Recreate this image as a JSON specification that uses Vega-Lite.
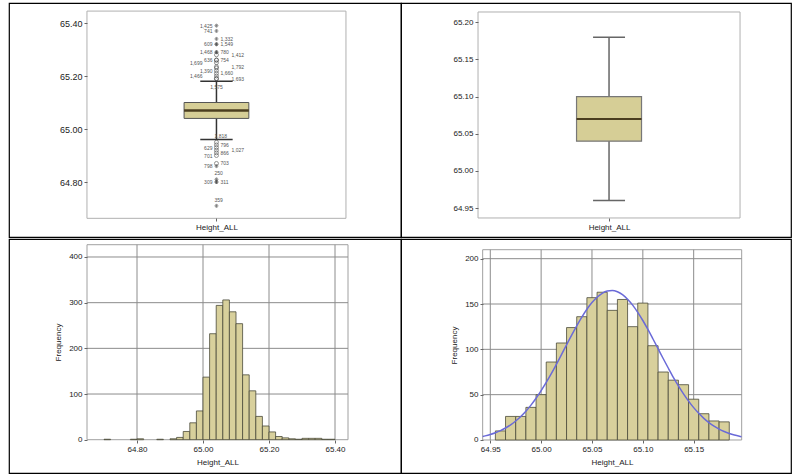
{
  "$schema": "https://vega.github.io/schema/vega-lite/v6.json",
  "padding": {"left": 8, "top": 2, "right": 0, "bottom": 0},
  "background": "white",
  "config": {
    "view": {"stroke": "black", "strokeWidth": 1.2},
    "font": "Liberation Sans",
    "axis": {"domain": false, "grid": false, "tickSize": 3, "tickColor": "#666", "labelColor": "#222", "labelFontSize": 8, "titleFontSize": 8, "titleFontWeight": "normal", "titleColor": "#222", "labelPadding": 2}
  },
  "datasets": {
    "box": [{"lower": 64.96, "q1": 65.04, "median": 65.07, "q3": 65.10, "upper": 65.18}],
    "out1": [
      {"v": 65.39, "id": "1,425", "kind": "extreme", "side": "left"},
      {"v": 65.37, "id": "741", "kind": "extreme", "side": "left"},
      {"v": 65.34, "id": "1,332", "kind": "extreme", "side": "right"},
      {"v": 65.32, "id": "609", "kind": "extreme", "side": "left"},
      {"v": 65.32, "id": "1,549", "kind": "extreme", "side": "right"},
      {"v": 65.29, "id": "1,468", "kind": "extreme", "side": "left"},
      {"v": 65.29, "id": "780", "kind": "extreme", "side": "right"},
      {"v": 65.28, "id": "1,412", "kind": "mild", "side": "farright"},
      {"v": 65.26, "id": "754", "kind": "mild", "side": "right"},
      {"v": 65.26, "id": "636", "kind": "mild", "side": "left"},
      {"v": 65.25, "id": "1,699", "kind": "mild", "side": "farleft"},
      {"v": 65.235, "id": "1,792", "kind": "mild", "side": "farright"},
      {"v": 65.23, "id": "572", "kind": "mild", "side": "none"},
      {"v": 65.22, "id": "1,390", "kind": "mild", "side": "left"},
      {"v": 65.21, "id": "1,660", "kind": "mild", "side": "right"},
      {"v": 65.20, "id": "1,466", "kind": "mild", "side": "farleft"},
      {"v": 65.19, "id": "1,693", "kind": "mild", "side": "farright"},
      {"v": 65.19, "id": "1,575", "kind": "mild", "side": "below"},
      {"v": 64.95, "id": "1,818", "kind": "mild", "side": "above"},
      {"v": 64.94, "id": "796", "kind": "mild", "side": "right"},
      {"v": 64.93, "id": "629", "kind": "mild", "side": "left"},
      {"v": 64.92, "id": "1,027", "kind": "mild", "side": "farright"},
      {"v": 64.91, "id": "866", "kind": "mild", "side": "right"},
      {"v": 64.90, "id": "701", "kind": "mild", "side": "left"},
      {"v": 64.87, "id": "703", "kind": "mild", "side": "right"},
      {"v": 64.86, "id": "798", "kind": "extreme", "side": "left"},
      {"v": 64.81, "id": "250", "kind": "extreme", "side": "above"},
      {"v": 64.80, "id": "311", "kind": "extreme", "side": "right"},
      {"v": 64.80, "id": "309", "kind": "extreme", "side": "left"},
      {"v": 64.71, "id": "359", "kind": "extreme", "side": "above"}
    ],
    "hist3": [
      {"start": 64.70, "end": 64.72, "count": 1},
      {"start": 64.78, "end": 64.80, "count": 1},
      {"start": 64.80, "end": 64.82, "count": 2},
      {"start": 64.86, "end": 64.88, "count": 1},
      {"start": 64.90, "end": 64.92, "count": 2},
      {"start": 64.92, "end": 64.94, "count": 5},
      {"start": 64.94, "end": 64.96, "count": 18},
      {"start": 64.96, "end": 64.98, "count": 37},
      {"start": 64.98, "end": 65.00, "count": 63},
      {"start": 65.00, "end": 65.02, "count": 137},
      {"start": 65.02, "end": 65.04, "count": 232},
      {"start": 65.04, "end": 65.06, "count": 294},
      {"start": 65.06, "end": 65.08, "count": 306},
      {"start": 65.08, "end": 65.10, "count": 280},
      {"start": 65.10, "end": 65.12, "count": 254},
      {"start": 65.12, "end": 65.14, "count": 142},
      {"start": 65.14, "end": 65.16, "count": 107},
      {"start": 65.16, "end": 65.18, "count": 51},
      {"start": 65.18, "end": 65.20, "count": 30},
      {"start": 65.20, "end": 65.22, "count": 17},
      {"start": 65.22, "end": 65.24, "count": 7},
      {"start": 65.24, "end": 65.26, "count": 4},
      {"start": 65.26, "end": 65.28, "count": 2},
      {"start": 65.28, "end": 65.30, "count": 1},
      {"start": 65.30, "end": 65.32, "count": 3},
      {"start": 65.32, "end": 65.34, "count": 3},
      {"start": 65.34, "end": 65.36, "count": 3},
      {"start": 65.36, "end": 65.38, "count": 1},
      {"start": 65.38, "end": 65.40, "count": 1}
    ],
    "hist4": [
      {"start": 64.955, "end": 64.965, "count": 10},
      {"start": 64.965, "end": 64.975, "count": 26},
      {"start": 64.975, "end": 64.985, "count": 26},
      {"start": 64.985, "end": 64.995, "count": 36},
      {"start": 64.995, "end": 65.005, "count": 50},
      {"start": 65.005, "end": 65.015, "count": 86},
      {"start": 65.015, "end": 65.025, "count": 107},
      {"start": 65.025, "end": 65.035, "count": 124},
      {"start": 65.035, "end": 65.045, "count": 136},
      {"start": 65.045, "end": 65.055, "count": 157},
      {"start": 65.055, "end": 65.065, "count": 163},
      {"start": 65.065, "end": 65.075, "count": 143},
      {"start": 65.075, "end": 65.085, "count": 155},
      {"start": 65.085, "end": 65.095, "count": 125},
      {"start": 65.095, "end": 65.105, "count": 151},
      {"start": 65.105, "end": 65.115, "count": 104},
      {"start": 65.115, "end": 65.125, "count": 75},
      {"start": 65.125, "end": 65.135, "count": 66},
      {"start": 65.135, "end": 65.145, "count": 61},
      {"start": 65.145, "end": 65.155, "count": 45},
      {"start": 65.155, "end": 65.165, "count": 29},
      {"start": 65.165, "end": 65.175, "count": 21},
      {"start": 65.175, "end": 65.185, "count": 20}
    ],
    "curve": [
      {"h": 64.9425, "f": 3.95}, {"h": 64.945, "f": 4.57}, {"h": 64.95, "f": 6.06}, {"h": 64.955, "f": 7.96},
      {"h": 64.96, "f": 10.33}, {"h": 64.965, "f": 13.23}, {"h": 64.97, "f": 16.77}, {"h": 64.975, "f": 21.0},
      {"h": 64.98, "f": 26.0}, {"h": 64.985, "f": 31.8}, {"h": 64.99, "f": 38.5}, {"h": 64.995, "f": 46.0},
      {"h": 65.0, "f": 54.4}, {"h": 65.005, "f": 63.5}, {"h": 65.01, "f": 73.2}, {"h": 65.015, "f": 83.5},
      {"h": 65.02, "f": 94.2}, {"h": 65.025, "f": 105.0}, {"h": 65.03, "f": 115.7}, {"h": 65.035, "f": 125.9},
      {"h": 65.04, "f": 135.5}, {"h": 65.045, "f": 144.2}, {"h": 65.05, "f": 151.6}, {"h": 65.055, "f": 157.5},
      {"h": 65.06, "f": 161.8}, {"h": 65.065, "f": 164.3}, {"h": 65.07, "f": 164.9}, {"h": 65.075, "f": 163.5},
      {"h": 65.08, "f": 160.3}, {"h": 65.085, "f": 155.3}, {"h": 65.09, "f": 148.8}, {"h": 65.095, "f": 140.8},
      {"h": 65.1, "f": 131.8}, {"h": 65.105, "f": 121.9}, {"h": 65.11, "f": 111.4}, {"h": 65.115, "f": 100.7},
      {"h": 65.12, "f": 89.9}, {"h": 65.125, "f": 79.4}, {"h": 65.13, "f": 69.2}, {"h": 65.135, "f": 59.7},
      {"h": 65.14, "f": 50.9}, {"h": 65.145, "f": 42.9}, {"h": 65.15, "f": 35.7}, {"h": 65.155, "f": 29.4},
      {"h": 65.16, "f": 23.9}, {"h": 65.165, "f": 19.2}, {"h": 65.17, "f": 15.3}, {"h": 65.175, "f": 12.0},
      {"h": 65.18, "f": 9.32}, {"h": 65.185, "f": 7.15}, {"h": 65.19, "f": 5.42}, {"h": 65.195, "f": 4.07},
      {"h": 65.197, "f": 3.61}
    ],
    "grid3x": [{"g": 64.8}, {"g": 65.0}, {"g": 65.2}, {"g": 65.4}],
    "grid3y": [{"g": 100}, {"g": 200}, {"g": 300}, {"g": 400}],
    "grid4x": [{"g": 64.95}, {"g": 65.0}, {"g": 65.05}, {"g": 65.1}, {"g": 65.15}],
    "grid4y": [{"g": 50}, {"g": 100}, {"g": 150}, {"g": 200}]
  },
  "spacing": 0,
  "vconcat": [
    {
      "spacing": 0,
      "bounds": "flush",
      "hconcat": [
        {
          "width": 392,
          "height": 234,
          "layer": [
            {
              "data": {"values": [{"frame": 1}]},
              "mark": {"type": "rect", "fillOpacity": 0, "stroke": "#b0b0b0", "strokeWidth": 1},
              "encoding": {
                "x": {"datum": -1, "type": "quantitative", "scale": {"domain": [-1.602, 1.425], "nice": false, "zero": false}, "axis": {"zindex": 1, "values": [0], "labelExpr": "'Height_ALL'", "title": null, "offset": -19, "labelFontSize": 8}},
                "x2": {"datum": 1},
                "y": {"datum": 64.663, "type": "quantitative", "scale": {"domain": [64.5925, 65.4755], "nice": false, "zero": false}, "axis": {"zindex": 1, "values": [64.8, 65.0, 65.2, 65.4], "format": ".2f", "title": null, "offset": -78, "labelFontSize": 9}},
                "y2": {"datum": 65.445}
              }
            },
            {
              "data": {"name": "box"},
              "mark": {"type": "rule", "color": "#333", "strokeWidth": 1.5},
              "encoding": {
                "x": {"datum": 0, "type": "quantitative"},
                "y": {"field": "lower", "type": "quantitative"},
                "y2": {"field": "upper"}
              }
            },
            {
              "data": {"name": "box"},
              "mark": {"type": "rule", "color": "#333", "strokeWidth": 1.5},
              "encoding": {
                "x": {"datum": -0.125, "type": "quantitative"},
                "x2": {"datum": 0.125},
                "y": {"field": "lower", "type": "quantitative"}
              }
            },
            {
              "data": {"name": "box"},
              "mark": {"type": "rule", "color": "#333", "strokeWidth": 1.5},
              "encoding": {
                "x": {"datum": -0.125, "type": "quantitative"},
                "x2": {"datum": 0.125},
                "y": {"field": "upper", "type": "quantitative"}
              }
            },
            {
              "data": {"name": "box"},
              "mark": {"type": "rect", "fill": "#d6ce96", "stroke": "#555", "strokeWidth": 1},
              "encoding": {
                "x": {"datum": -0.25, "type": "quantitative"},
                "x2": {"datum": 0.25},
                "y": {"field": "q1", "type": "quantitative"},
                "y2": {"field": "q3"}
              }
            },
            {
              "data": {"name": "box"},
              "mark": {"type": "rule", "color": "#4b3e1f", "strokeWidth": 2.5},
              "encoding": {
                "x": {"datum": -0.25, "type": "quantitative"},
                "x2": {"datum": 0.25},
                "y": {"field": "median", "type": "quantitative"}
              }
            },
            {
              "data": {"name": "out1"},
              "mark": {"type": "point", "filled": false, "size": 16, "strokeWidth": 0.8},
              "encoding": {
                "x": {"datum": 0, "type": "quantitative"},
                "y": {"field": "v", "type": "quantitative"},
                "shape": {"field": "kind", "type": "nominal", "scale": {"domain": ["mild", "extreme"], "range": ["circle", "M-1,0H1M0,-1V1M-0.7,-0.7L0.7,0.7M-0.7,0.7L0.7,-0.7"]}, "legend": null},
                "color": {"value": "#444"}
              }
            },
            {
              "data": {"name": "out1"},
              "transform": [{"filter": "datum.side === 'left'"}],
              "mark": {"type": "text", "align": "right", "baseline": "middle", "dx": -4, "fontSize": 5, "color": "#555"},
              "encoding": {
                "x": {"datum": 0, "type": "quantitative"},
                "y": {"field": "v", "type": "quantitative"},
                "text": {"field": "id"}
              }
            },
            {
              "data": {"name": "out1"},
              "transform": [{"filter": "datum.side === 'farleft'"}],
              "mark": {"type": "text", "align": "right", "baseline": "middle", "dx": -14, "fontSize": 5, "color": "#555"},
              "encoding": {
                "x": {"datum": 0, "type": "quantitative"},
                "y": {"field": "v", "type": "quantitative"},
                "text": {"field": "id"}
              }
            },
            {
              "data": {"name": "out1"},
              "transform": [{"filter": "datum.side === 'right'"}],
              "mark": {"type": "text", "align": "left", "baseline": "middle", "dx": 4, "fontSize": 5, "color": "#555"},
              "encoding": {
                "x": {"datum": 0, "type": "quantitative"},
                "y": {"field": "v", "type": "quantitative"},
                "text": {"field": "id"}
              }
            },
            {
              "data": {"name": "out1"},
              "transform": [{"filter": "datum.side === 'farright'"}],
              "mark": {"type": "text", "align": "left", "baseline": "middle", "dx": 15, "fontSize": 5, "color": "#555"},
              "encoding": {
                "x": {"datum": 0, "type": "quantitative"},
                "y": {"field": "v", "type": "quantitative"},
                "text": {"field": "id"}
              }
            },
            {
              "data": {"name": "out1"},
              "transform": [{"filter": "datum.side === 'above'"}],
              "mark": {"type": "text", "align": "left", "baseline": "bottom", "dx": -2, "dy": -3, "fontSize": 5, "color": "#555"},
              "encoding": {
                "x": {"datum": 0, "type": "quantitative"},
                "y": {"field": "v", "type": "quantitative"},
                "text": {"field": "id"}
              }
            },
            {
              "data": {"name": "out1"},
              "transform": [{"filter": "datum.side === 'below'"}],
              "mark": {"type": "text", "align": "center", "baseline": "top", "dy": 6, "fontSize": 5, "color": "#555"},
              "encoding": {
                "x": {"datum": 0, "type": "quantitative"},
                "y": {"field": "v", "type": "quantitative"},
                "text": {"field": "id"}
              }
            }
          ]
        },
        {
          "width": 390,
          "height": 234,
          "layer": [
            {
              "data": {"values": [{"frame": 1}]},
              "mark": {"type": "rect", "fillOpacity": 0, "stroke": "#b0b0b0", "strokeWidth": 1},
              "encoding": {
                "x": {"datum": -1, "type": "quantitative", "scale": {"domain": [-1.588, 1.389], "nice": false, "zero": false}, "axis": {"zindex": 1, "values": [0], "labelExpr": "'Height_ALL'", "title": null, "offset": -19, "labelFontSize": 8}},
                "x2": {"datum": 1},
                "y": {"datum": 64.9366, "type": "quantitative", "scale": {"domain": [64.911, 65.226], "nice": false, "zero": false}, "axis": {"zindex": 1, "values": [64.95, 65.0, 65.05, 65.1, 65.15, 65.2], "format": ".2f", "title": null, "offset": -77, "labelFontSize": 8}},
                "y2": {"datum": 65.2139}
              }
            },
            {
              "data": {"name": "box"},
              "mark": {"type": "rule", "color": "#666", "strokeWidth": 1.5},
              "encoding": {
                "x": {"datum": 0, "type": "quantitative"},
                "y": {"field": "lower", "type": "quantitative"},
                "y2": {"field": "upper"}
              }
            },
            {
              "data": {"name": "box"},
              "mark": {"type": "rule", "color": "#666", "strokeWidth": 1.5},
              "encoding": {
                "x": {"datum": -0.122, "type": "quantitative"},
                "x2": {"datum": 0.122},
                "y": {"field": "lower", "type": "quantitative"}
              }
            },
            {
              "data": {"name": "box"},
              "mark": {"type": "rule", "color": "#666", "strokeWidth": 1.5},
              "encoding": {
                "x": {"datum": -0.122, "type": "quantitative"},
                "x2": {"datum": 0.122},
                "y": {"field": "upper", "type": "quantitative"}
              }
            },
            {
              "data": {"name": "box"},
              "mark": {"type": "rect", "fill": "#d6ce96", "stroke": "#777", "strokeWidth": 1.2},
              "encoding": {
                "x": {"datum": -0.248, "type": "quantitative"},
                "x2": {"datum": 0.248},
                "y": {"field": "q1", "type": "quantitative"},
                "y2": {"field": "q3"}
              }
            },
            {
              "data": {"name": "box"},
              "mark": {"type": "rule", "color": "#4b3e1f", "strokeWidth": 2},
              "encoding": {
                "x": {"datum": -0.248, "type": "quantitative"},
                "x2": {"datum": 0.248},
                "y": {"field": "median", "type": "quantitative"}
              }
            }
          ]
        }
      ]
    },
    {
      "spacing": 0,
      "bounds": "flush",
      "hconcat": [
        {
          "width": 392,
          "height": 234,
          "layer": [
            {
              "data": {"values": [{"frame": 1}]},
              "mark": {"type": "rect", "fillOpacity": 0, "stroke": "#a0a0a0", "strokeWidth": 1},
              "encoding": {
                "x": {"datum": 64.6485, "type": "quantitative", "scale": {"domain": [64.4121, 65.6], "nice": false, "zero": false}, "axis": {"zindex": 1, "values": [64.8, 65.0, 65.2, 65.4], "format": ".2f", "title": "Height_ALL", "titleX": 208.5, "titlePadding": 5, "offset": -33}},
                "x2": {"datum": 65.4394},
                "y": {"datum": 0, "type": "quantitative", "scale": {"domain": [-72.9, 439.4], "nice": false, "zero": false}, "axis": {"zindex": 1, "values": [0, 100, 200, 300, 400], "title": "Frequency", "titleY": 103, "titlePadding": 6, "offset": -78}},
                "y2": {"datum": 426.9}
              }
            },
            {
              "data": {"name": "grid3x"},
              "mark": {"type": "rule", "color": "#8c8c8c", "strokeWidth": 1},
              "encoding": {
                "x": {"field": "g", "type": "quantitative"},
                "y": {"datum": 0, "type": "quantitative"},
                "y2": {"datum": 426.9}
              }
            },
            {
              "data": {"name": "grid3y"},
              "mark": {"type": "rule", "color": "#8c8c8c", "strokeWidth": 1},
              "encoding": {
                "y": {"field": "g", "type": "quantitative"},
                "x": {"datum": 64.6485, "type": "quantitative"},
                "x2": {"datum": 65.4394}
              }
            },
            {
              "data": {"name": "hist3"},
              "mark": {"type": "rect", "fill": "#d8d09c", "stroke": "#4a4a3a", "strokeWidth": 0.8},
              "encoding": {
                "x": {"field": "start", "type": "quantitative"},
                "x2": {"field": "end"},
                "y": {"field": "count", "type": "quantitative"},
                "y2": {"datum": 0}
              }
            }
          ]
        },
        {
          "width": 390,
          "height": 234,
          "layer": [
            {
              "data": {"values": [{"frame": 1}]},
              "mark": {"type": "rect", "fillOpacity": 0, "stroke": "#a0a0a0", "strokeWidth": 1},
              "encoding": {
                "x": {"datum": 64.9425, "type": "quantitative", "scale": {"domain": [64.8622, 65.2457], "nice": false, "zero": false}, "axis": {"zindex": 1, "values": [64.95, 65.0, 65.05, 65.1, 65.15], "format": ".2f", "title": "Height_ALL", "titleX": 211, "titlePadding": 5, "offset": -33}},
                "x2": {"datum": 65.1972},
                "y": {"datum": 0, "type": "quantitative", "scale": {"domain": [-36.4, 221.7], "nice": false, "zero": false}, "axis": {"zindex": 1, "values": [0, 50, 100, 150, 200], "title": "Frequency", "titleY": 106, "titlePadding": 6, "offset": -82}},
                "y2": {"datum": 209.9}
              }
            },
            {
              "data": {"name": "grid4x"},
              "mark": {"type": "rule", "color": "#8c8c8c", "strokeWidth": 1},
              "encoding": {
                "x": {"field": "g", "type": "quantitative"},
                "y": {"datum": 0, "type": "quantitative"},
                "y2": {"datum": 209.9}
              }
            },
            {
              "data": {"name": "grid4y"},
              "mark": {"type": "rule", "color": "#8c8c8c", "strokeWidth": 1},
              "encoding": {
                "y": {"field": "g", "type": "quantitative"},
                "x": {"datum": 64.9425, "type": "quantitative"},
                "x2": {"datum": 65.1972}
              }
            },
            {
              "data": {"name": "hist4"},
              "mark": {"type": "rect", "fill": "#d8d09c", "stroke": "#4a4a3a", "strokeWidth": 0.8},
              "encoding": {
                "x": {"field": "start", "type": "quantitative"},
                "x2": {"field": "end"},
                "y": {"field": "count", "type": "quantitative"},
                "y2": {"datum": 0}
              }
            },
            {
              "data": {"name": "curve"},
              "mark": {"type": "line", "color": "#6a6ad8", "strokeWidth": 1.5, "interpolate": "monotone"},
              "encoding": {
                "x": {"field": "h", "type": "quantitative"},
                "y": {"field": "f", "type": "quantitative"}
              }
            }
          ]
        }
      ]
    }
  ]
}
